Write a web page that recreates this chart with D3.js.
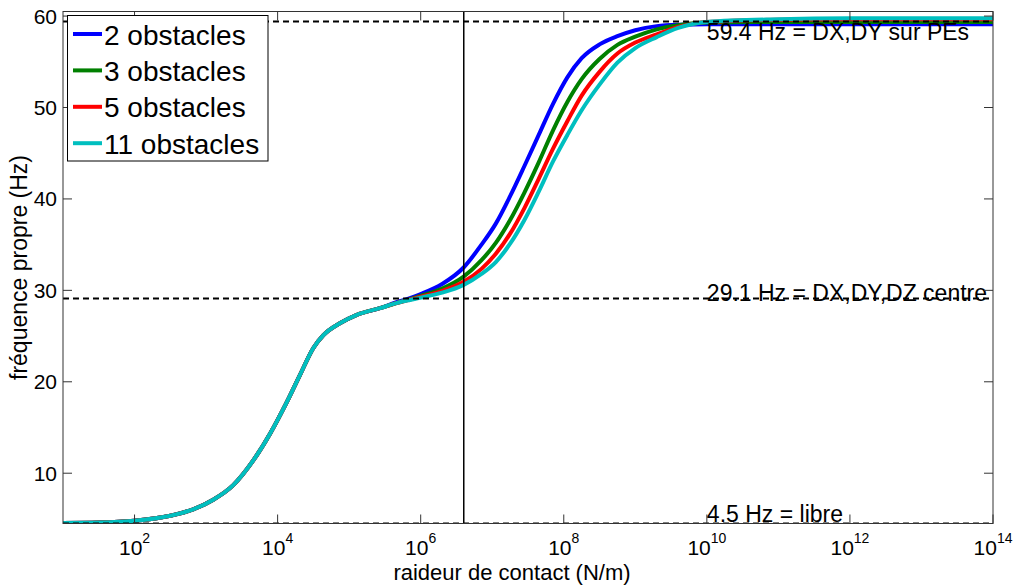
<!DOCTYPE html>
<html lang="fr">
<head>
<meta charset="UTF-8">
<title>fréquence propre vs raideur de contact</title>
<script src="https://cdn.jsdelivr.net/npm/d3@7"></script>
<style>
  body { margin: 0; background: #fff; }
  svg { font-family: "Liberation Sans", Arial, sans-serif; }
  .curve { fill: none; stroke-width: 4; stroke-linejoin: round; }
  .ref { stroke: #000; stroke-width: 2; stroke-dasharray: 6 4; }
  .tick-label { font-size: 21px; fill: #000; }
</style>
</head>
<body>
<svg width="1016" height="587"></svg>
<script>
// exponents of the contact stiffness, k = 10^e (N/m)
const kExp = [1, 1.5, 2, 2.5, 2.82, 3.1, 3.38, 3.66, 3.9, 4.13, 4.31, 4.5, 4.64, 4.87, 5.1, 5.43, 5.66, 5.85,
              6.0, 6.3, 6.6, 6.85, 7.05, 7.25, 7.45, 7.65, 7.85, 8.05, 8.25, 8.5, 8.75, 9.0, 9.3, 9.6, 10, 11, 12, 13, 14];

const f2 = [4.55, 4.6, 4.8, 5.35, 6.05, 7.1, 8.7, 11.4, 14.4, 17.8, 20.7, 23.7, 25.1, 26.4, 27.3, 28.05, 28.7, 29.15,
            29.6, 30.7, 32.5, 35.0, 37.3, 40.3, 43.6, 47.0, 50.4, 53.3, 55.4, 56.9, 57.8, 58.45, 58.9, 59.05, 59.1, 59.1, 59.1, 59.1, 59.1];
const f3 = [4.55, 4.6, 4.8, 5.35, 6.05, 7.1, 8.7, 11.4, 14.4, 17.8, 20.7, 23.7, 25.1, 26.4, 27.3, 28.05, 28.6, 29.05,
            29.4, 30.2, 31.5, 33.3, 35.2, 37.7, 40.7, 44.0, 47.5, 50.6, 53.1, 55.3, 56.85, 57.75, 58.55, 59.0, 59.3, 59.35, 59.35, 59.35, 59.35];
const f5 = [4.55, 4.6, 4.8, 5.35, 6.05, 7.1, 8.7, 11.4, 14.4, 17.8, 20.7, 23.7, 25.1, 26.4, 27.3, 28.05, 28.6, 29.0,
            29.3, 29.95, 30.95, 32.35, 34.0, 36.2, 39.0, 42.2, 45.5, 48.5, 51.3, 53.9, 55.9, 57.1, 58.0, 58.8, 59.35, 59.6, 59.65, 59.65, 59.65];
const f11 = [4.55, 4.6, 4.8, 5.35, 6.05, 7.1, 8.7, 11.4, 14.4, 17.8, 20.7, 23.7, 25.1, 26.4, 27.3, 28.05, 28.6, 28.95,
             29.2, 29.75, 30.6, 31.8, 33.1, 35.1, 37.7, 40.8, 44.1, 47.0, 49.7, 52.5, 54.9, 56.5, 57.7, 58.7, 59.35, 59.65, 59.75, 59.75, 59.75];

const seriesNames = ["2 obstacles", "3 obstacles", "5 obstacles", "11 obstacles"];
const seriesValues = [f2, f3, f5, f11];
const seriesColors = ["#0000ff", "#008000", "#ff0000", "#00bfbf"];

// reference frequencies and their labels
const refFreqs = [59.4, 29.1, 4.5];
const refLabels = ["59.4 Hz = DX,DY sur PEs", "29.1 Hz = DX,DY,DZ centre", "4.5 Hz = libre"];
const refLabelY = [57.4, 28.85, 4.65];
const refLabelK = 1e10;

const markK = 4e6;  // vertical marker

const xTickExp = [2, 4, 6, 8, 10, 12, 14];
const yTicks = [10, 20, 30, 40, 50, 60];

const svg = d3.select("svg");
const m = { left: 63, right: 993, top: 11.5, bottom: 523.5 };

const x = d3.scaleLog().domain([10, 1e14]).range([m.left, m.right]);
const y = d3.scaleLinear().domain([4.5, 60.5]).range([m.bottom, m.top]);

svg.append("clipPath").attr("id", "plot")
  .append("rect").attr("x", m.left).attr("y", m.top)
  .attr("width", m.right - m.left).attr("height", m.bottom - m.top);

const plot = svg.append("g").attr("clip-path", "url(#plot)");

const line = d3.line()
  .x(d => x(d[0]))
  .y(d => y(d[1]))
  .curve(d3.curveMonotoneX);

seriesValues.forEach((vals, i) => {
  plot.append("path")
    .attr("class", "curve")
    .attr("stroke", seriesColors[i])
    .attr("d", line(kExp.map((e, j) => [Math.pow(10, e), vals[j]])));
});

plot.selectAll("line.ref")
  .data(refFreqs)
  .join("line")
  .attr("class", "ref")
  .attr("x1", m.left).attr("x2", m.right)
  .attr("y1", d => y(d)).attr("y2", d => y(d));

plot.append("line")
  .attr("x1", x(markK)).attr("x2", x(markK))
  .attr("y1", m.top).attr("y2", m.bottom)
  .attr("stroke", "#000").attr("stroke-width", 1.5);

svg.selectAll("text.ref-label")
  .data(refLabels)
  .join("text")
  .attr("class", "ref-label")
  .attr("x", x(refLabelK))
  .attr("y", (d, i) => y(refLabelY[i]))
  .attr("font-size", 23)
  .text(d => d);

// box and ticks (inside, mirrored)
const axes = svg.append("g").attr("stroke", "#333").attr("stroke-width", 1).attr("fill", "none");
axes.append("rect").attr("x", m.left).attr("y", m.top)
  .attr("width", m.right - m.left).attr("height", m.bottom - m.top);

xTickExp.forEach(e => {
  const px = x(Math.pow(10, e));
  axes.append("line").attr("x1", px).attr("x2", px).attr("y1", m.bottom).attr("y2", m.bottom - 9);
  axes.append("line").attr("x1", px).attr("x2", px).attr("y1", m.top).attr("y2", m.top + 9);
});
yTicks.forEach(v => {
  const py = y(v);
  axes.append("line").attr("x1", m.left).attr("x2", m.left + 9).attr("y1", py).attr("y2", py);
  axes.append("line").attr("x1", m.right).attr("x2", m.right - 9).attr("y1", py).attr("y2", py);
});

const xl = svg.selectAll("text.xtick")
  .data(xTickExp)
  .join("text")
  .attr("class", "tick-label xtick")
  .attr("x", e => x(Math.pow(10, e)))
  .attr("y", 555)
  .attr("text-anchor", "middle");
xl.append("tspan").text("10");
xl.append("tspan").attr("font-size", 14).attr("dy", -12).text(e => e);

svg.selectAll("text.ytick")
  .data(yTicks)
  .join("text")
  .attr("class", "tick-label ytick")
  .attr("x", 57)
  .attr("y", d => y(d))
  .attr("dy", "0.36em")
  .attr("text-anchor", "end")
  .text(d => d);

svg.append("text")
  .attr("x", 512).attr("y", 580)
  .attr("text-anchor", "middle")
  .attr("font-size", 22)
  .text("raideur de contact (N/m)");

svg.append("text")
  .attr("transform", `translate(27,${(m.top + m.bottom) / 2}) rotate(-90)`)
  .attr("text-anchor", "middle")
  .attr("font-size", 23)
  .text("fréquence propre (Hz)");

// legend
const lg = svg.append("g");
lg.append("rect")
  .attr("x", 67.5).attr("y", 15.5).attr("width", 200.5).attr("height", 145.5)
  .attr("fill", "#fff").attr("stroke", "#000").attr("stroke-width", 1);
seriesNames.forEach((name, i) => {
  const cy = 34 + i * 36.4;
  lg.append("line")
    .attr("x1", 73).attr("x2", 102).attr("y1", cy).attr("y2", cy)
    .attr("stroke", seriesColors[i]).attr("stroke-width", 4);
  lg.append("text")
    .attr("x", 104).attr("y", cy + 10.5)
    .attr("font-size", 28)
    .text(name);
});
</script>
</body>
</html>
